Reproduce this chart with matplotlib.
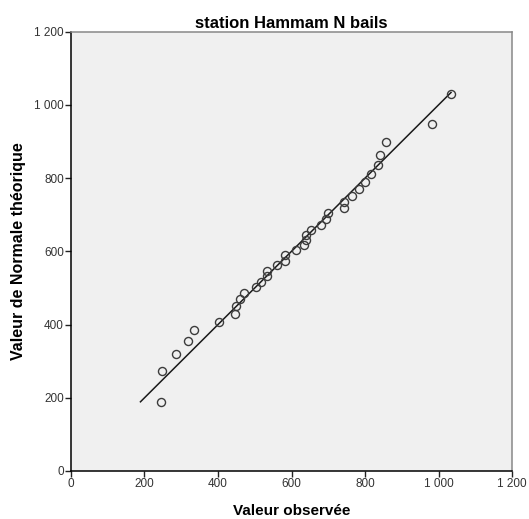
import numpy as np
import matplotlib.pyplot as plt
from matplotlib.ticker import FuncFormatter

plt.rcParams['font.family'] = ['Liberation Sans', 'DejaVu Sans']

# valeurs observées (triées) et valeurs de la normale théorique
observed = [245, 247, 285, 318, 336, 404, 446, 449, 460, 471, 503, 516,
            533, 534, 560, 581, 582, 611, 634, 639, 640, 653, 681, 694,
            698, 744, 744, 765, 784, 800, 815, 836, 841, 856, 983, 1034]
theoretical = [189, 273, 320, 356, 384, 408, 430, 451, 469, 486, 502, 517,
               533, 546, 563, 575, 590, 604, 616, 631, 645, 658, 672, 688,
               704, 718, 736, 751, 770, 789, 811, 836, 864, 900, 947, 1030]
line_ends = [189, 1034]
ticks = [0, 200, 400, 600, 800, 1000, 1200]


def fmt(v, pos):
    return f"{int(v):,}".replace(",", " ")


fig = plt.figure(figsize=(5.29, 5.19), dpi=100)
ax = fig.add_axes([0.1342, 0.0925, 0.8337, 0.8464])
ax.set_facecolor('#f0f0f0')

ax.plot(line_ends, line_ends, color='#1a1a1a', linewidth=1.1)
ax.plot(observed, theoretical, 'o', markersize=5.8, markerfacecolor='none',
        markeredgecolor='#3c3c3c', markeredgewidth=1.0)

ax.set_xlim(0, 1200)
ax.set_ylim(0, 1200)
ax.set_xticks(ticks)
ax.set_yticks(ticks)
ax.xaxis.set_major_formatter(FuncFormatter(fmt))
ax.yaxis.set_major_formatter(FuncFormatter(fmt))
ax.tick_params(direction='out', length=4, width=1, labelsize=8.5, colors='#222222', pad=1)
ax.tick_params(labelcolor='#333333')

for side in ['left', 'bottom']:
    ax.spines[side].set_color('black')
    ax.spines[side].set_linewidth(1.1)
for side in ['top', 'right']:
    ax.spines[side].set_color('#888888')
    ax.spines[side].set_linewidth(1.1)

ax.set_title('station Hammam N bails', fontsize=12, fontweight='bold', pad=3)
ax.set_xlabel('Valeur observée', fontsize=11, fontweight='bold', labelpad=10)
ax.set_ylabel('Valeur de Normale théorique', fontsize=11.5, fontweight='bold', labelpad=6)

fig.savefig('out.png', dpi=100, facecolor='white')
